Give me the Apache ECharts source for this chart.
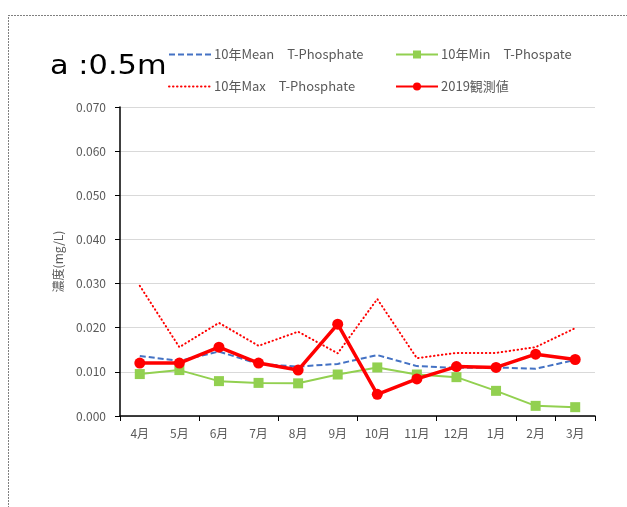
<!DOCTYPE html>
<html>
<head>
<meta charset="utf-8">
<script src="https://cdn.jsdelivr.net/npm/echarts@6/dist/echarts.min.js"></script>
<style>
  html, body { margin: 0; padding: 0; background: #fff; }
  #main { width: 627px; height: 507px; }
</style>
</head>
<body>
<div id="main"></div>
<script>
// 月 (4月 → 3月)
const months = ['4月', '5月', '6月', '7月', '8月', '9月', '10月', '11月', '12月', '1月', '2月', '3月']

// 10年平均・最小・最大と2019年観測値 (mg/L)
const meanVals = [0.0136, 0.0125, 0.0146, 0.0118, 0.0112, 0.0118, 0.0138, 0.0113, 0.0109, 0.0110, 0.0107, 0.0127]
const minVals = [0.0095, 0.0104, 0.0079, 0.0075, 0.0074, 0.0094, 0.0110, 0.0094, 0.0088, 0.0057, 0.0023, 0.0020]
const maxVals = [0.0295, 0.0156, 0.0211, 0.0159, 0.0191, 0.0142, 0.0265, 0.0131, 0.0143, 0.0143, 0.0156, 0.0199]
const obsVals = [0.0120, 0.0120, 0.0156, 0.0120, 0.0104, 0.0208, 0.0049, 0.0084, 0.0112, 0.0110, 0.0140, 0.0128]

const names = ['10年Mean　T-Phosphate', '10年Min　T-Phospate', '10年Max　T-Phosphate', '2019観測値']

const font = '"Noto Sans CJK JP", sans-serif'
const txtColor = '#595959'

// 凡例は1項目ずつ置く（Excelの2段組みに合わせる）
function legendAt (name, left, top, lineOnly) {
  const item = { name: name }
  if (lineOnly) item.itemStyle = { opacity: 0 }
  return {
    data: [item],
    left: left,
    top: top,
    itemWidth: 42,
    itemHeight: 10,
    itemGap: 4,
    textStyle: { fontFamily: font, fontSize: 13, color: txtColor, padding: [0, 0, 0, -2] }
  }
}

const chart = echarts.init(document.getElementById('main'))

chart.setOption({
  animation: false,
  backgroundColor: '#fff',
  graphic: [
    {
      type: 'rect',
      shape: { x: 8.5, y: 15.5, width: 650, height: 520 },
      style: { fill: 'none', stroke: '#000', lineWidth: 1, lineDash: [1, 2] },
      silent: true
    },
    {
      type: 'text',
      left: 50,
      top: 54,
      scaleX: 1.17,
      style: { text: 'a :0.5m', font: '26px "DejaVu Sans", sans-serif', fill: '#000' }
    }
  ],
  legend: [
    legendAt(names[0], 163, 43, true),
    legendAt(names[1], 390, 43, false),
    legendAt(names[2], 163, 75, true),
    legendAt(names[3], 390, 75, false)
  ],
  grid: { left: 120, right: 32, top: 107, bottom: 91 },
  xAxis: {
    type: 'category',
    data: months,
    boundaryGap: true,
    axisLine: { lineStyle: { color: '#000', width: 1.5 } },
    axisTick: { show: true, interval: 1, length: 5, lineStyle: { color: '#000' } },
    axisLabel: { interval: 0, margin: 11, fontFamily: font, fontSize: 12, color: txtColor }
  },
  yAxis: {
    type: 'value',
    min: 0,
    max: 0.07,
    interval: 0.01,
    name: '濃度(mg/L)',
    nameLocation: 'middle',
    nameGap: 56,
    nameTextStyle: { fontFamily: font, fontSize: 12, color: txtColor },
    axisLine: { show: true, lineStyle: { color: '#000', width: 1.5 } },
    axisTick: { show: true, inside: false, length: 5, lineStyle: { color: '#000' } },
    axisLabel: {
      formatter: v => v.toFixed(3),
      margin: 14,
      fontFamily: font,
      fontSize: 12,
      color: txtColor
    },
    splitLine: { lineStyle: { color: '#d9d9d9', width: 1 } }
  },
  series: [
    {
      name: names[0],
      type: 'line',
      data: meanVals,
      symbol: 'none',
      z: 2,
      lineStyle: { color: '#4472c4', width: 2, type: [6, 3] },
      itemStyle: { color: '#4472c4' }
    },
    {
      name: names[1],
      type: 'line',
      data: minVals,
      symbol: 'rect',
      symbolSize: 10,
      z: 3,
      lineStyle: { color: '#92d050', width: 2 },
      itemStyle: { color: '#92d050' }
    },
    {
      name: names[2],
      type: 'line',
      data: maxVals,
      symbol: 'none',
      z: 2,
      lineStyle: { color: '#ff0000', width: 2, type: [0.5, 3.5], cap: 'round' },
      itemStyle: { color: '#ff0000' }
    },
    {
      name: names[3],
      type: 'line',
      data: obsVals,
      symbol: 'circle',
      symbolSize: 11,
      z: 4,
      lineStyle: { color: '#ff0000', width: 3.5 },
      itemStyle: { color: '#ff0000' }
    }
  ]
})
</script>
</body>
</html>
